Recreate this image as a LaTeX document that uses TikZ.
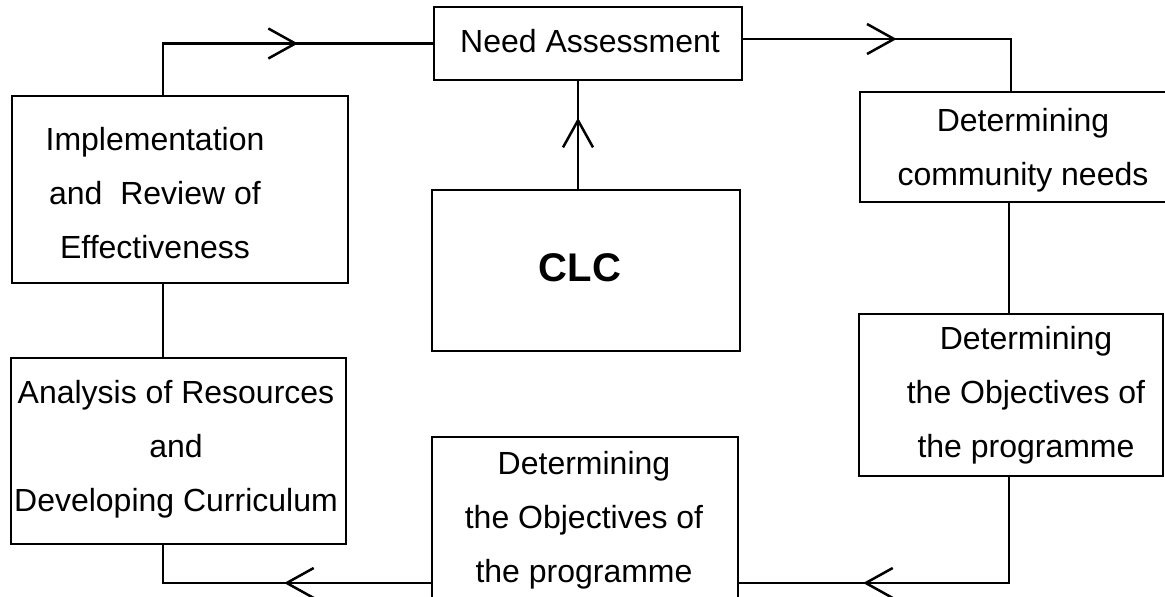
\documentclass[tikz,border=0pt]{standalone}
\usepackage{fontspec}
\setmainfont{Liberation Sans}
\usetikzlibrary{arrows.meta,decorations.markings}

\begin{document}
\begin{tikzpicture}[x=1pt,y=-1pt,
  box/.style={draw, line width=2.5pt, inner sep=0pt, rectangle},
  txt/.style={inner sep=0pt, align=center, font=\fontsize{32}{54}\selectfont},
  link/.style={line width=2.5pt},
  mid arrow/.style={postaction={decorate,decoration={markings,
    mark=at position #1 with {\arrow{Straight Barb[length=27pt,width=30pt,line width=2.5pt]}}}}}]
\useasboundingbox (0,0) rectangle (1165,597);
\clip (0,0) rectangle (1165,597);
\node[box, minimum width=308pt, minimum height=73pt] (need) at (588,43.5) {};
\node[txt] (needtxt) at (590,41) {Need Assessment};
\node[box, minimum width=308pt, minimum height=161pt] (clc) at (586,270.5) {};
\node[txt, font=\fontsize{40}{48}\selectfont\bfseries] (clctxt) at (580,268) {CLC};
\node[box, minimum width=336pt, minimum height=187pt] (impl) at (180,189.5) {};
\node[txt] (impltxt) at (155,193) {Implementation\\and~~Review of\\Effectiveness};
\node[box, minimum width=335pt, minimum height=186pt] (anal) at (178.5,451) {};
\node[txt] (analtxt) at (176,449) {Analysis of Resources\\and\\Developing Curriculum};
\node[box, minimum width=306pt, minimum height=183pt] (botm) at (585,528.5) {};
\node[txt] (botmtxt) at (584,520) {Determining\\the Objectives of\\the programme};
\node[box, minimum width=326pt, minimum height=110pt] (comm) at (1023,147) {};
\node[txt] (commtxt) at (1023,150) {Determining\\community needs};
\node[box, minimum width=304pt, minimum height=162pt] (obj) at (1011,395) {};
\node[txt] (objtxt) at (1026,395) {Determining\\the Objectives of\\the programme};
\draw[link, mid arrow=0.66] ([xshift=-8pt]clc.north) -- ([xshift=-8pt]clc.north |- need.south);
\draw[link, mid arrow=0.58] ([xshift=-17pt]impl.north) |- (need.west);
\draw[link, mid arrow=0.48] ([yshift=4.5pt]need.east) -| ([xshift=-12pt]comm.north);
\draw[link] ([xshift=-14pt]comm.south) -- ([xshift=-2pt]obj.north);
\draw[link, mid arrow=0.67] ([xshift=-2pt]obj.south) |- ([yshift=-54.5pt]botm.east);
\draw[link, mid arrow=0.48] ([yshift=-54.5pt]botm.west) -| ([xshift=-15.5pt]anal.south);
\draw[link] ([xshift=-15.5pt]anal.north) -- ([xshift=-17pt]impl.south);
\end{tikzpicture}
\end{document}
